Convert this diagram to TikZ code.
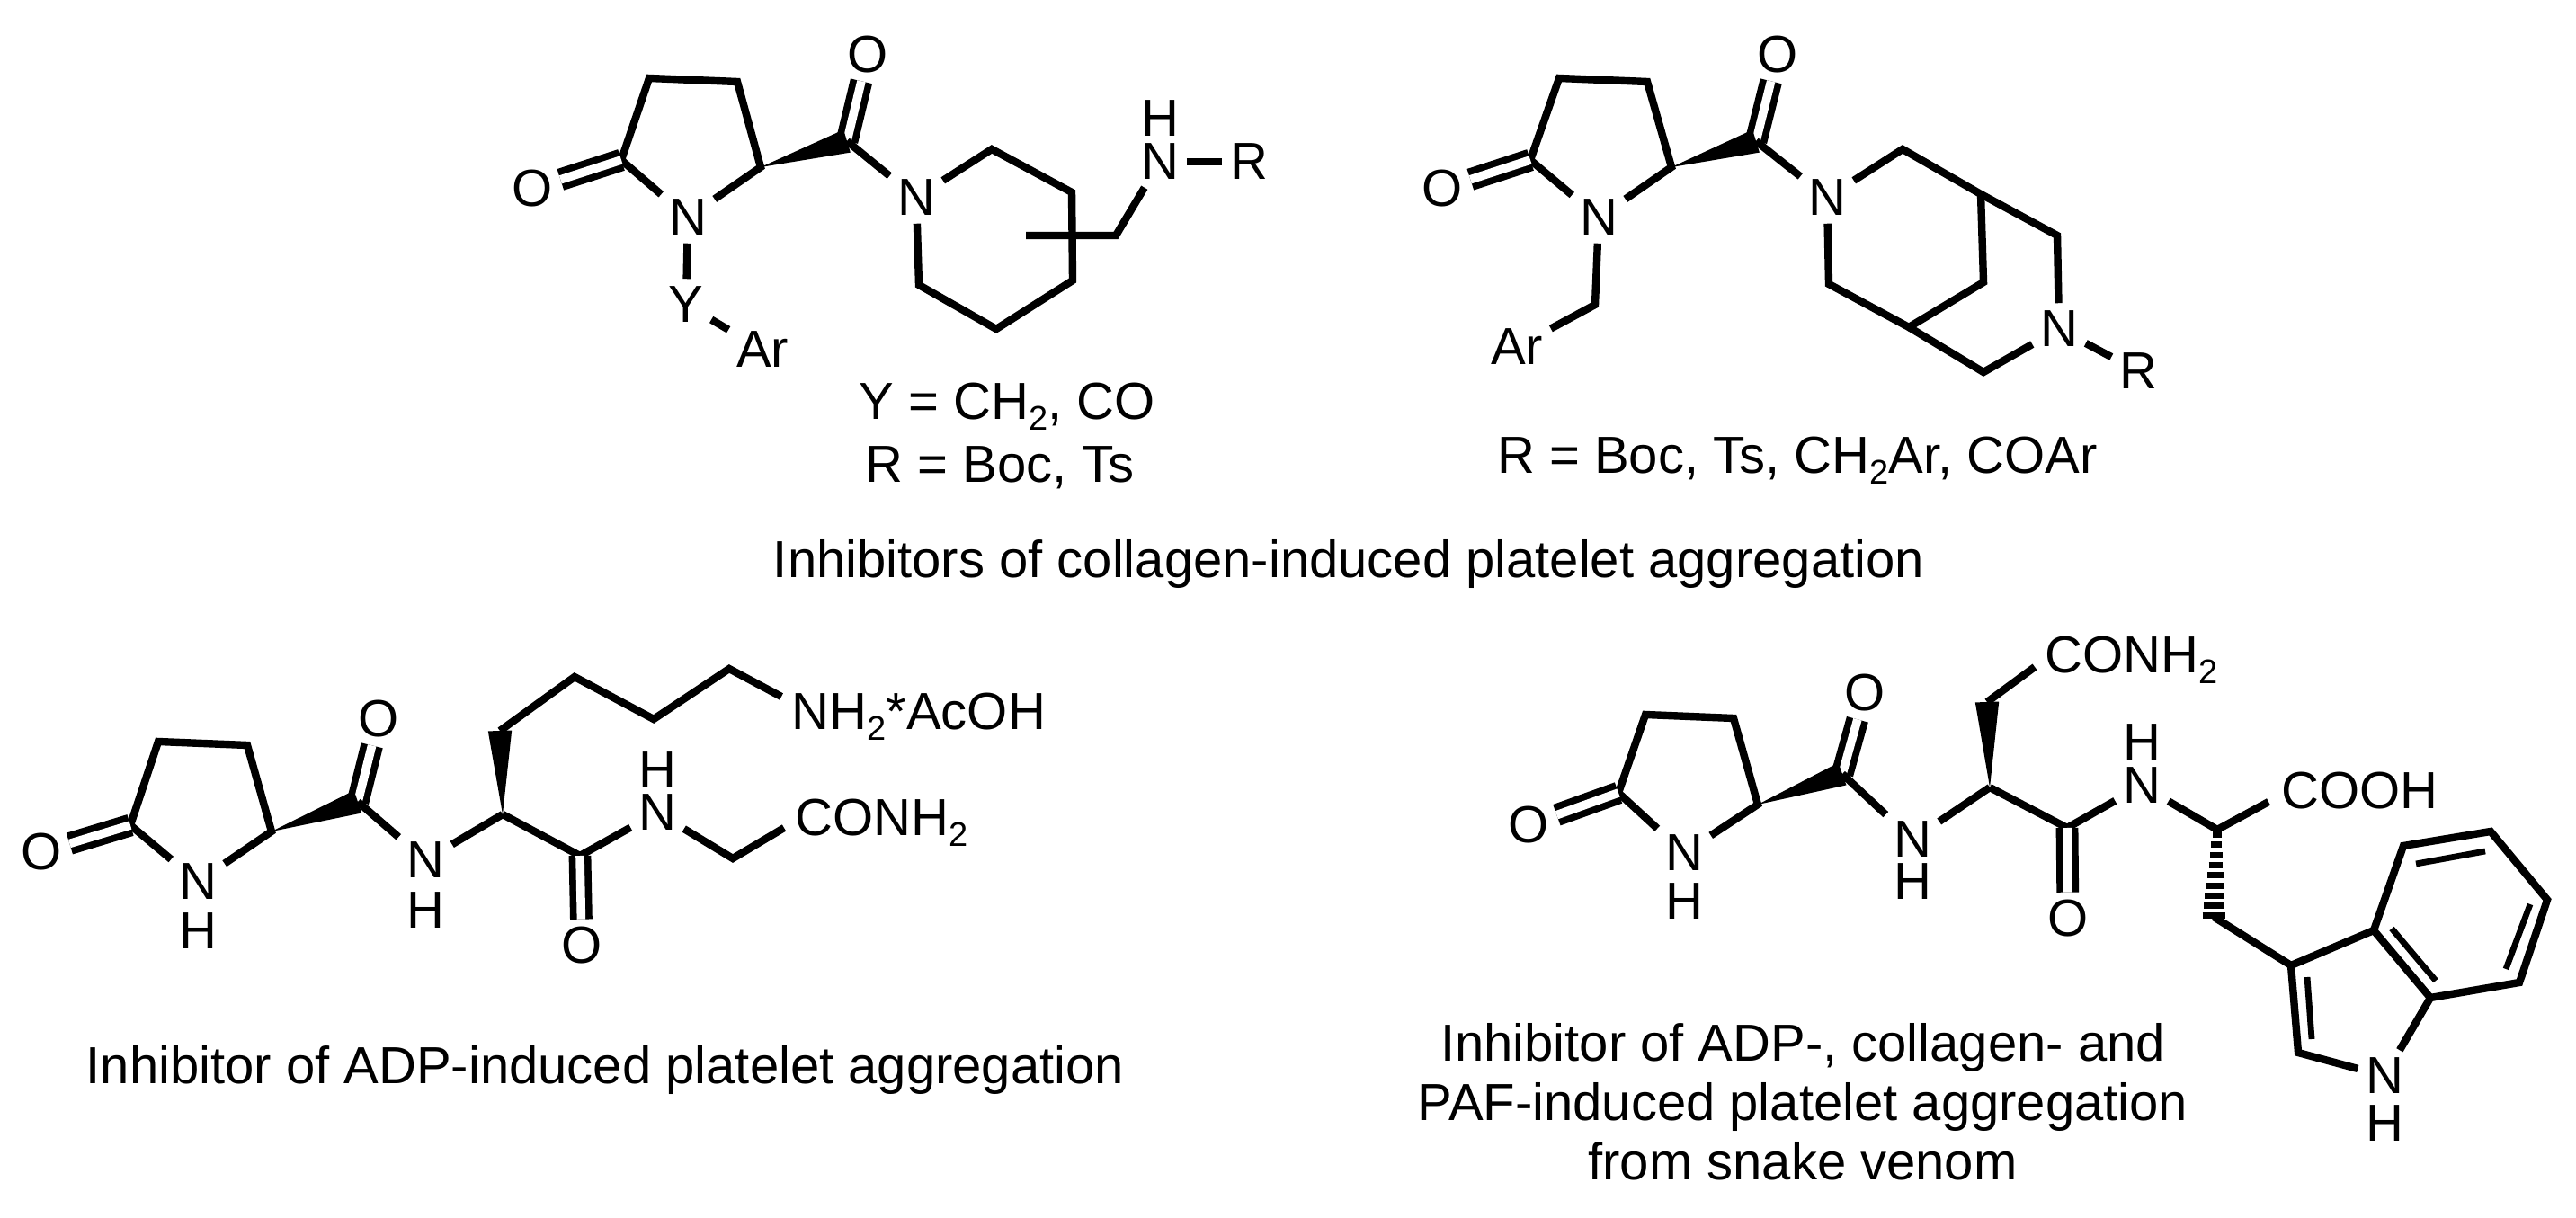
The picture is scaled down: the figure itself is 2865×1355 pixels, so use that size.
\documentclass[tikz,border=0pt]{standalone}
\usepackage{fontspec}
\setmainfont{Liberation Sans}
\usepackage{tikz}
\usetikzlibrary{calc}
\usetikzlibrary{positioning}
\newcommand{\subtwo}{\raisebox{-2.8pt}{\fontsize{9.5}{11}\selectfont 2}}
\newcommand{\wedgebond}[2]{\fill (#1) -- ($(#2)!3.3pt!90:(#1)$) -- ($(#2)!3.3pt!-90:(#1)$) -- cycle;}
\begin{document}
\begin{tikzpicture}[x=0.25pt, y=-0.25pt,
	every node/.style={font=\fontsize{14.5}{16}\selectfont},
	atom/.style={inner sep=2pt},
	label/.style={inner sep=0pt, align=center},
	bond/.style={draw=black, line width=2.1pt, line join=miter},
	dbond/.style={draw=black, line width=1.9pt, double=white, double distance=2.4pt},
	ibond/.style={draw=black, line width=1.7pt}]
	\useasboundingbox (0,0) rectangle (2865,1355);

	% Top left: atoms
	\node[atom] (ao1) at (592,210) {O};
	\node[atom] (ao2) at (965,61) {O};
	\node[atom] (an1) at (765,242) {N};
	\node[atom] (an2) at (1019,220) {N};
	\node[atom] (an3) at (1290,180) {N};
	\node[atom] (ah3) at (1290,132) {H};
	\node[atom] (ar) at (1389,180) {R};
	\node[atom] (ay) at (763,339) {Y};
	\node[atom] (aar) at (848,389) {Ar};
	\coordinate (ac1) at (691,178);
	\coordinate (ac2) at (722,87);
	\coordinate (ac3) at (820,91);
	\coordinate (ac4) at (846,186);
	\coordinate (ac5) at (942,157);
	\coordinate (ar1) at (1103,166);
	\coordinate (ar2) at (1192,214);
	\coordinate (ar3) at (1193,312);
	\coordinate (ar4) at (1108,366);
	\coordinate (ar5) at (1022,317);
	\coordinate (as1) at (1141,262);
	\coordinate (as2) at (1241,262);

	% Top left: bonds
	\draw[bond] (an1) -- (ac1) -- (ac2) -- (ac3) -- (ac4) -- (an1);
	\draw[dbond] (ac1) -- (ao1);
	\draw[dbond] (ac5) -- (ao2);
	\wedgebond{ac4}{ac5}
	\draw[bond] (ac5) -- (an2);
	\draw[bond] (an2) -- (ar1) -- (ar2) -- (ar3) -- (ar4) -- (ar5) -- (an2);
	\draw[bond] (as1) -- (as2) -- (an3);
	\draw[bond] (an3) -- (ar);
	\draw[bond] (an1) -- (ay);
	\draw[bond] (ay) -- (aar);

	% Top right: atoms
	\node[atom] (bo1) at (1604,210) {O};
	\node[atom] (bo2) at (1977,61) {O};
	\node[atom] (bn1) at (1778,242) {N};
	\node[atom] (bn2) at (2032,220) {N};
	\node[atom] (bn3) at (2290,366) {N};
	\node[atom] (br) at (2378,413) {R};
	\node[atom] (bar) at (1687,386) {Ar};
	\coordinate (bc1) at (1702,178);
	\coordinate (bc2) at (1734,87);
	\coordinate (bc3) at (1832,91);
	\coordinate (bc4) at (1859,186);
	\coordinate (bc5) at (1953,157);
	\coordinate (bc6) at (1774,339);
	\coordinate (br1) at (2116,166);
	\coordinate (br2) at (2203,216);
	\coordinate (br3) at (2206,314);
	\coordinate (br4) at (2123,364);
	\coordinate (br5) at (2034,316);
	\coordinate (br6) at (2288,262);
	\coordinate (br7) at (2206,414);

	% Top right: bonds
	\draw[bond] (bn1) -- (bc1) -- (bc2) -- (bc3) -- (bc4) -- (bn1);
	\draw[dbond] (bc1) -- (bo1);
	\draw[dbond] (bc5) -- (bo2);
	\wedgebond{bc4}{bc5}
	\draw[bond] (bc5) -- (bn2);
	\draw[bond] (bn2) -- (br1) -- (br2) -- (br3) -- (br4) -- (br5) -- (bn2);
	\draw[bond] (br2) -- (br6) -- (bn3);
	\draw[bond] (br4) -- (br7) -- (bn3);
	\draw[bond] (bn3) -- (br);
	\draw[bond] (bn1) -- (bc6) -- (bar);

	% Bottom left: atoms
	\node[atom] (co1) at (46,948) {O};
	\node[atom] (co2) at (421,800) {O};
	\node[atom] (co3) at (647,1052) {O};
	\node[atom] (cn1) at (220,981) {N};
	\node[atom] (ch1) at (220,1036) {H};
	\node[atom] (cn2) at (473,957) {N};
	\node[atom] (ch2) at (473,1013) {H};
	\node[atom] (cn3) at (731,904) {N};
	\node[atom] (ch3) at (731,857) {H};
	\node[label, anchor=base west] (cam) at (880,812) {NH\subtwo*AcOH};
	\node[label, anchor=base west] (cco) at (884,930) {CONH\subtwo};
	\coordinate (cc1) at (145,918);
	\coordinate (cc2) at (176,825);
	\coordinate (cc3) at (275,829);
	\coordinate (cc4) at (302,925);
	\coordinate (cc5) at (398,892);
	\coordinate (cc6) at (559,906);
	\coordinate (cc7) at (556,813);
	\coordinate (cc8) at (639,753);
	\coordinate (cc9) at (727,800);
	\coordinate (cc10) at (811,744);
	\coordinate (cc11) at (869,775);
	\coordinate (cc12) at (645,952);
	\coordinate (cc13) at (815,955);
	\coordinate (cc14) at (872,921);

	% Bottom left: bonds
	\draw[bond] (cn1) -- (cc1) -- (cc2) -- (cc3) -- (cc4) -- (cn1);
	\draw[dbond] (cc1) -- (co1);
	\draw[dbond] (cc5) -- (co2);
	\wedgebond{cc4}{cc5}
	\draw[bond] (cc5) -- (cn2);
	\draw[bond] (cn2) -- (cc6);
	\wedgebond{cc6}{cc7}
	\draw[bond] (cc7) -- (cc8) -- (cc9) -- (cc10) -- (cc11);
	\draw[bond] (cc6) -- (cc12) -- (cn3);
	\draw[dbond] (cc12) -- (co3);
	\draw[bond] (cn3) -- (cc13) -- (cc14);

	% Bottom right: atoms
	\node[atom] (do1) at (1700,918) {O};
	\node[atom] (do2) at (2074,771) {O};
	\node[atom] (do3) at (2300,1022) {O};
	\node[atom] (dn1) at (1873,949) {N};
	\node[atom] (dh1) at (1873,1003) {H};
	\node[atom] (dn2) at (2127,934) {N};
	\node[atom] (dh2) at (2127,981) {H};
	\node[atom] (dn3) at (2382,874) {N};
	\node[atom] (dh3) at (2382,826) {H};
	\node[atom] (dn4) at (2652,1197) {N};
	\node[atom] (dh4) at (2652,1250) {H};
	\node[label, anchor=base west] (dco) at (2274,749) {CONH\subtwo};
	\node[label, anchor=base west] (dac) at (2537,900) {COOH};
	\coordinate (dc1) at (1800,882);
	\coordinate (dc2) at (1830,795);
	\coordinate (dc3) at (1928,799);
	\coordinate (dc4) at (1955,895);
	\coordinate (dc5) at (2049,861);
	\coordinate (dc6) at (2213,876);
	\coordinate (dc7) at (2210,781);
	\coordinate (dc8) at (2263,742);
	\coordinate (dc9) at (2299,921);
	\coordinate (dc10) at (2466,923);
	\coordinate (dc11) at (2523,892);
	\coordinate (dc12) at (2462,1020);
	\coordinate (di1) at (2548,1074);
	\coordinate (di2) at (2556,1171);
	\coordinate (di3) at (2703,1110);
	\coordinate (di4) at (2640,1035);
	\coordinate (di5) at (2673,941);
	\coordinate (di6) at (2770,925);
	\coordinate (di7) at (2833,1001);
	\coordinate (di8) at (2802,1093);
	\coordinate (dj1) at (2566,1087);
	\coordinate (dj2) at (2571,1156);
	\coordinate (dj3) at (2660,1033);
	\coordinate (dj4) at (2709,1091);
	\coordinate (dj5) at (2687,961);
	\coordinate (dj6) at (2764,947);
	\coordinate (dj7) at (2814,1006);
	\coordinate (dj8) at (2787,1078);

	% Bottom right: bonds
	\draw[bond] (dn1) -- (dc1) -- (dc2) -- (dc3) -- (dc4) -- (dn1);
	\draw[dbond] (dc1) -- (do1);
	\draw[dbond] (dc5) -- (do2);
	\wedgebond{dc4}{dc5}
	\draw[bond] (dc5) -- (dn2);
	\draw[bond] (dn2) -- (dc6);
	\wedgebond{dc6}{dc7}
	\draw[bond] (dc7) -- (dc8);
	\draw[bond] (dc6) -- (dc9) -- (dn3);
	\draw[dbond] (dc9) -- (do3);
	\draw[bond] (dn3) -- (dc10) -- (dc11);
	\foreach \k [evaluate=\k as \t using (\k-0.5)/8.6, evaluate=\k as \h using 4+0.94*\k] in {1,...,9} {
		\draw[line width=1.75pt] ($(dc10)!\t!(dc12)+(-\h,0)$) -- ($(dc10)!\t!(dc12)+(\h,0)$);
	}
	\draw[bond] (dc12) -- (di1) -- (di2) -- (dn4) -- (di3) -- (di4) -- (di1);
	\draw[bond] (di4) -- (di5) -- (di6) -- (di7) -- (di8) -- (di3);
	\draw[ibond] (dj1) -- (dj2);
	\draw[ibond] (dj3) -- (dj4);
	\draw[ibond] (dj5) -- (dj6);
	\draw[ibond] (dj7) -- (dj8);

	% Captions
	\node[label, anchor=base] (ycap) at (1120,467) {Y = CH\subtwo, CO};
	\node[label, anchor=base] (rcap) at (1112,537) {R = Boc, Ts};
	\node[label, anchor=base] (bcap) at (1999,527) {R = Boc, Ts, CH\subtwo Ar, COAr};
	\node[label, anchor=base] (topcap) at (1500,643) {Inhibitors of collagen-induced platelet aggregation};
	\node[label, anchor=base] (ccap) at (673,1205) {Inhibitor of ADP-induced platelet aggregation};
	\node[label] (dcap) at (2005,1226) {Inhibitor of ADP-, collagen- and\\[0.5pt]PAF-induced platelet aggregation\\[0.5pt]from snake venom};
\end{tikzpicture}
\end{document}
